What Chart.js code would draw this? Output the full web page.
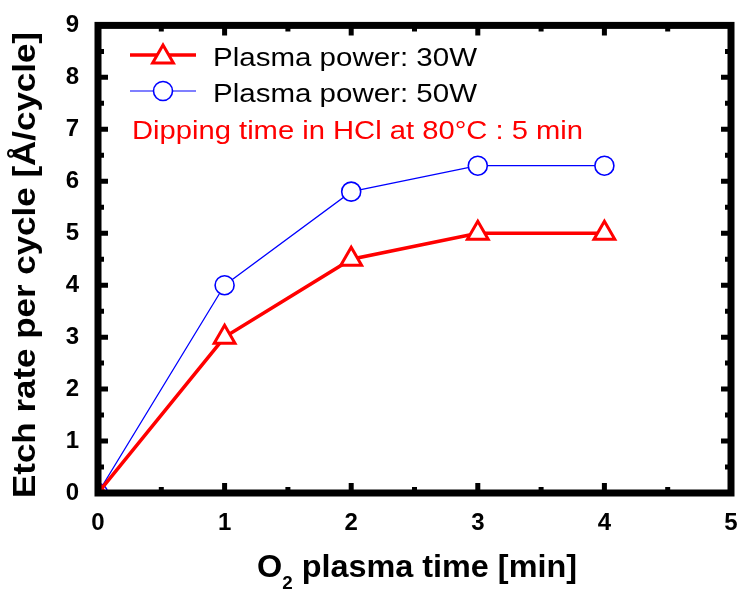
<!DOCTYPE html>
<html>
<head>
<meta charset="utf-8">
<script src="https://cdn.jsdelivr.net/npm/chart.js@4/dist/chart.umd.min.js"></script>
<style>
  html, body { margin: 0; padding: 0; background: #fff; }
  canvas { display: block; }
</style>
</head>
<body>
<canvas id="etch" width="746" height="591"></canvas>
<script>
// O2 plasma time [min]
const plasmaTime = [0, 1, 2, 3, 4];
// etch rate per cycle [Å/cycle]
const rate30W = [0, 3, 4.5, 5, 5];
const rate50W = [0, 4, 5.8, 6.3, 6.3];
const seriesNames = ['Plasma power: 30W', 'Plasma power: 50W'];
const noteText = 'Dipping time in HCl at 80°C : 5 min';
const xRange = [0, 5];
const yRange = [0, 9];

const FONT = "'Liberation Sans', Arial, Helvetica, sans-serif";

function points(ys) {
  return plasmaTime.map((x, i) => ({x: x, y: ys[i]}));
}

// draws text stretched to a given width, starting at x
function fitText(ctx, text, x, y, width) {
  const w = ctx.measureText(text).width;
  ctx.save();
  ctx.translate(x, y);
  ctx.scale(width / w, 1);
  ctx.fillText(text, 0, 0);
  ctx.restore();
}

function drawFrame(chart) {
  const {ctx, chartArea: a, scales: {x, y}} = chart;
  ctx.save();
  ctx.setTransform(1, 0, 0, 1, 0, 0);
  ctx.strokeStyle = '#000';
  ctx.lineWidth = 7;
  ctx.lineJoin = 'miter';
  ctx.strokeRect(a.left, a.top, a.right - a.left, a.bottom - a.top);

  // inward ticks on all four sides, major every unit, minor halfway
  ctx.lineWidth = 5;
  ctx.beginPath();
  for (let v = xRange[0]; v <= xRange[1]; v += 0.5) {
    const px = x.getPixelForValue(v);
    const len = Number.isInteger(v) ? 10 : 6;
    ctx.moveTo(px, a.bottom); ctx.lineTo(px, a.bottom - len);
    ctx.moveTo(px, a.top); ctx.lineTo(px, a.top + len);
  }
  for (let v = yRange[0]; v <= yRange[1]; v += 0.5) {
    const py = y.getPixelForValue(v);
    const len = Number.isInteger(v) ? 10 : 6;
    ctx.moveTo(a.left, py); ctx.lineTo(a.left + len, py);
    ctx.moveTo(a.right, py); ctx.lineTo(a.right - len, py);
  }
  ctx.stroke();
  ctx.restore();
}

const decorations = {
  id: 'decorations',
  afterDraw(chart) {
    drawFrame(chart);
    const ctx = chart.ctx;
    ctx.save();
    ctx.fillStyle = '#000';
    ctx.textAlign = 'left';
    ctx.textBaseline = 'alphabetic';

    // x axis title with subscript
    const big = 'bold 31px ' + FONT, small = 'bold 18px ' + FONT;
    ctx.font = big;
    const wO = ctx.measureText('O').width;
    const rest = ' plasma time [min]';
    const wRest = ctx.measureText(rest).width;
    ctx.font = small;
    const w2 = ctx.measureText('2').width;
    const total = wO + w2 + wRest;
    const s = 320 / total;
    ctx.translate(417 - 160, 577);
    ctx.scale(s, 1);
    ctx.font = big;
    ctx.fillText('O', 0, 0);
    ctx.font = small;
    ctx.fillText('2', wO, 12);
    ctx.font = big;
    ctx.fillText(rest, wO + w2, 0);
    ctx.setTransform(1, 0, 0, 1, 0, 0);

    // y axis title
    ctx.font = 'bold 32px ' + FONT;
    ctx.translate(35, 265);
    ctx.rotate(-Math.PI / 2);
    fitText(ctx, 'Etch rate per cycle [Å/cycle]', -233, 0, 466);
    ctx.setTransform(1, 0, 0, 1, 0, 0);

    // legend built from the dataset styles
    const rows = [55, 91];
    chart.data.datasets.forEach((ds, i) => {
      const ly = rows[i];
      ctx.strokeStyle = ds.borderColor;
      ctx.lineWidth = ds.borderWidth;
      ctx.beginPath();
      ctx.moveTo(130, ly); ctx.lineTo(196, ly);
      ctx.stroke();
      ctx.fillStyle = '#fff';
      ctx.lineWidth = ds.pointBorderWidth;
      Chart.helpers.drawPoint(ctx, {
        pointStyle: ds.pointStyle, rotation: 0,
        radius: ds.pointRadius, borderWidth: ds.pointBorderWidth
      }, 163, ly + (ds.pointStyle === 'triangle' ? 2 : 0));
      ctx.fillStyle = '#000';
      ctx.font = '26.5px ' + FONT;
      fitText(ctx, ds.label, 213, ly + 11, 264);
    });
    ctx.fillStyle = '#ff0000';
    ctx.font = '26.5px ' + FONT;
    fitText(ctx, noteText, 132, 139, 451);
    ctx.restore();
  }
};

new Chart('etch', {
  type: 'line',
  data: {
    datasets: [{
      label: seriesNames[0],
      data: points(rate30W),
      borderColor: '#ff0000',
      borderWidth: 3.5,
      pointStyle: 'triangle',
      pointRadius: 12,
      pointBorderWidth: 3,
      pointBackgroundColor: '#fff',
      pointBorderColor: '#ff0000',
      clip: 0
    }, {
      label: seriesNames[1],
      data: points(rate50W),
      borderColor: '#0000ff',
      borderWidth: 1.2,
      pointStyle: 'circle',
      pointRadius: 9.5,
      pointBorderWidth: 1.6,
      pointBackgroundColor: '#fff',
      pointBorderColor: '#0000ff',
      clip: 0
    }]
  },
  options: {
    responsive: false,
    animation: false,
    events: [],
    layout: {padding: {top: 25, right: 9, left: 0, bottom: 0}},
    plugins: {legend: {display: false}, tooltip: {enabled: false}},
    scales: {
      x: {
        type: 'linear',
        min: xRange[0], max: xRange[1],
        grid: {display: false},
        border: {display: false},
        ticks: {stepSize: 1, autoSkip: false, padding: 8, color: '#000',
                font: {family: FONT, size: 24, weight: 'bold'}},
        afterFit(scale) { scale.height = 98; }
      },
      y: {
        min: yRange[0], max: yRange[1],
        grid: {display: false},
        border: {display: false},
        ticks: {stepSize: 1, autoSkip: false, padding: 11, color: '#000',
                font: {family: FONT, size: 24, weight: 'bold'}},
        afterFit(scale) { scale.width = 98; }
      }
    }
  },
  plugins: [decorations]
});
</script>
</body>
</html>
